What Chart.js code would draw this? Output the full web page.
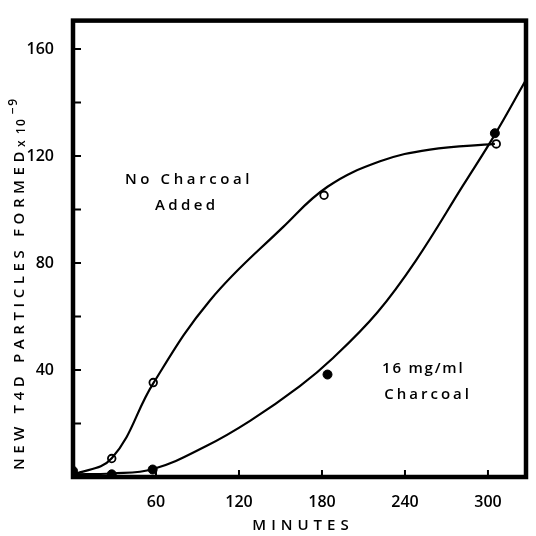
<!DOCTYPE html>
<html>
<head>
<meta charset="utf-8">
<script src="https://cdn.jsdelivr.net/npm/chart.js@4.4.1/dist/chart.umd.min.js"></script>
<style>
  html, body { margin: 0; padding: 0; background: #fff; }
  #wrap { width: 536px; height: 536px; }
</style>
</head>
<body>
<div id="wrap"><canvas id="chart"></canvas></div>
<script>
// Measured points (minutes, particles x 10^-9)
const noCharcoalMin = [0, 28, 58, 181.5, 306];
const noCharcoalVal = [0.5, 6.9, 35.3, 105.3, 124.5];
const charcoalMin = [0, 28, 57.6, 184, 305];
const charcoalVal = [2.3, 1, 2.8, 38.3, 128.5];

// Hand-drawn fitted curves
const noCharcoalCurveMin = [0, 28, 58, 99, 152, 184, 222, 258, 305];
const noCharcoalCurveVal = [0.8, 7, 35, 66, 93.5, 108.5, 118, 122.4, 124.5];
const charcoalCurveMin = [0, 28, 58, 96, 128, 164, 188, 220, 248, 282, 305, 327];
const charcoalCurveVal = [1, 1.3, 3, 11.5, 21, 34, 44.5, 61.5, 81, 109, 128, 148];

const xTicks = [60, 120, 180, 240, 300];
const yTicks = [20, 40, 60, 80, 100, 120, 140, 160];
const yLabelled = [40, 80, 120, 160];

const pts = (xs, ys) => xs.map((x, i) => ({ x: x, y: ys[i] }));

const FAMILY = '"Open Sans", sans-serif';

const framePlugin = {
  id: 'frame',
  afterDatasetsDraw(chart) {
    const { ctx, chartArea: a, scales } = chart;
    ctx.save();
    ctx.strokeStyle = '#000';
    ctx.lineWidth = 4.5;
    ctx.strokeRect(a.left, a.top, a.right - a.left, a.bottom - a.top);

    // inward tick marks
    ctx.lineWidth = 2;
    ctx.beginPath();
    yTicks.forEach(v => {
      const y = scales.y.getPixelForValue(v);
      ctx.moveTo(a.left, y);
      ctx.lineTo(a.left + 8, y);
    });
    xTicks.forEach(v => {
      const x = scales.x.getPixelForValue(v);
      ctx.moveTo(x, a.bottom);
      ctx.lineTo(x, a.bottom - 7);
    });
    ctx.stroke();

    // axis titles
    ctx.fillStyle = '#000';
    ctx.font = '600 15px ' + FAMILY;
    ctx.letterSpacing = '5px';
    ctx.textBaseline = 'middle';
    ctx.textAlign = 'center';
    ctx.fillText('MINUTES', 303, 526);

    ctx.save();
    ctx.translate(20, 470);
    ctx.rotate(-Math.PI / 2);
    ctx.textAlign = 'left';
    ctx.letterSpacing = '4.6px';
    ctx.fillText('NEW T4D PARTICLES FORMED', 0, 0);
    ctx.letterSpacing = '1.5px';
    ctx.font = '600 12px ' + FAMILY;
    ctx.fillText('x 10', 323, 2);
    ctx.fillText('\u22129', 356, -6);
    ctx.restore();

    // curve annotations
    ctx.textAlign = 'left';
    ctx.font = '600 15px ' + FAMILY;
    const put = (txt, xv, yv, sp) => {
      ctx.letterSpacing = sp + 'px';
      ctx.fillText(txt, scales.x.getPixelForValue(xv), scales.y.getPixelForValue(yv));
    };
    put('No Charcoal', 37.6, 111, 3.6);
    put('Added', 59.3, 101.5, 3.4);
    put('16 mg/ml', 223.4, 40.3, 1.8);
    put('Charcoal', 225, 30.8, 3);
    ctx.restore();
  }
};

new Chart(document.getElementById('chart'), {
  type: 'scatter',
  data: {
    datasets: [
      {
        label: 'No charcoal curve',
        data: pts(noCharcoalCurveMin, noCharcoalCurveVal),
        showLine: true,
        borderColor: '#000',
        borderWidth: 2.2,
        pointRadius: 0,
        tension: 0.4
      },
      {
        label: '16 mg/ml charcoal curve',
        data: pts(charcoalCurveMin, charcoalCurveVal),
        showLine: true,
        borderColor: '#000',
        borderWidth: 2.2,
        pointRadius: 0,
        tension: 0.4
      },
      {
        label: 'No Charcoal Added',
        data: pts(noCharcoalMin, noCharcoalVal),
        pointRadius: 3.8,
        pointBackgroundColor: '#fff',
        pointBorderColor: '#000',
        pointBorderWidth: 1.8
      },
      {
        label: '16 mg/ml Charcoal',
        data: pts(charcoalMin, charcoalVal),
        pointRadius: 4.5,
        pointBackgroundColor: '#000',
        pointBorderColor: '#000',
        pointBorderWidth: 1
      }
    ]
  },
  options: {
    responsive: true,
    maintainAspectRatio: false,
    animation: false,
    layout: { padding: { top: 12, right: 10, left: 0, bottom: 0 } },
    plugins: {
      legend: { display: false },
      tooltip: { enabled: false }
    },
    scales: {
      x: {
        type: 'linear',
        min: 0,
        max: 327.5,
        grid: { display: false },
        border: { display: false },
        afterBuildTicks: s => { s.ticks = xTicks.map(v => ({ value: v })); },
        afterFit: s => { s.height = 59; },
        ticks: {
          color: '#000',
          padding: 8,
          autoSkip: false,
          maxRotation: 0,
          font: { family: FAMILY, size: 16, weight: '600' }
        }
      },
      y: {
        type: 'linear',
        min: 0,
        max: 170.6,
        grid: { display: false },
        border: { display: false },
        afterBuildTicks: s => { s.ticks = yTicks.map(v => ({ value: v })); },
        afterFit: s => { s.width = 73; },
        ticks: {
          color: '#000',
          padding: 11,
          autoSkip: false,
          callback: v => yLabelled.includes(v) ? String(v) : '',
          font: { family: FAMILY, size: 16, weight: '600' }
        }
      }
    }
  },
  plugins: [framePlugin]
});
</script>
</body>
</html>
